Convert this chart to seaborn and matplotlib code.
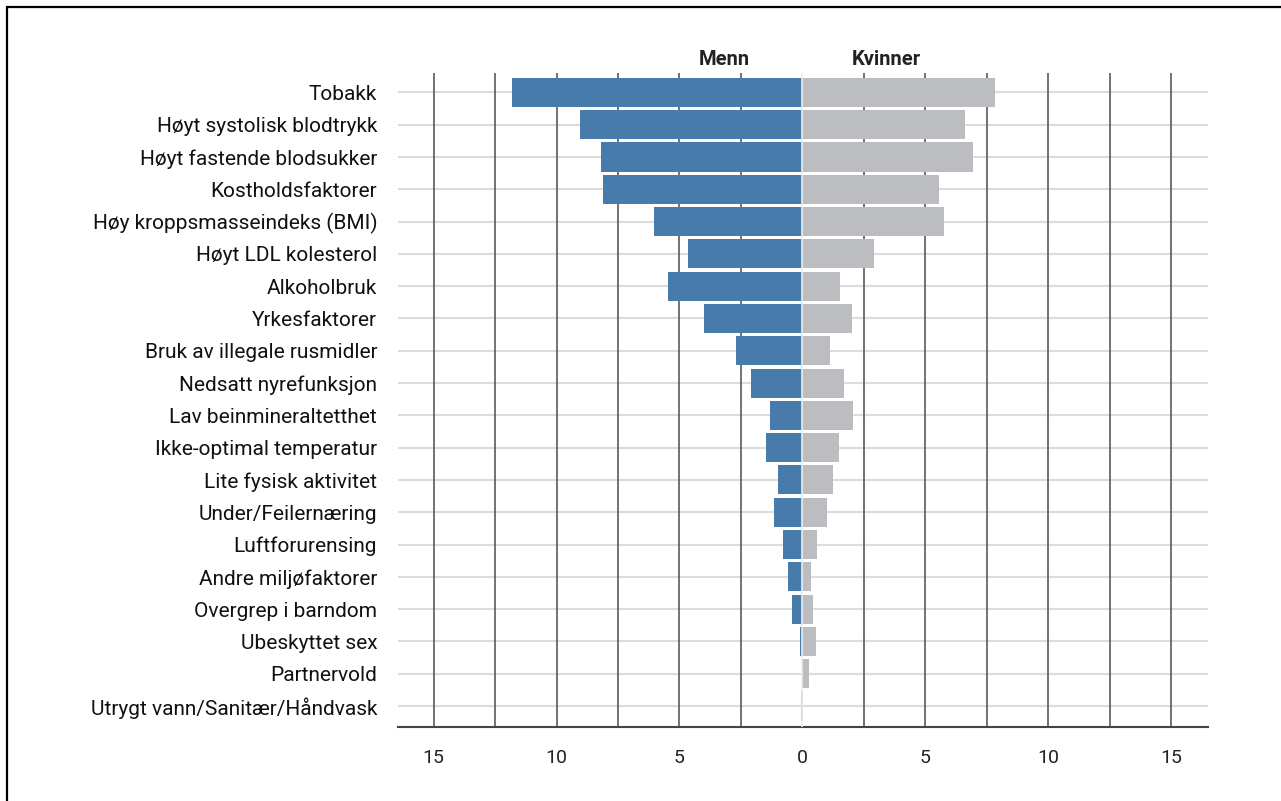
import pandas as pd
import matplotlib.pyplot as plt
import matplotlib.patches as mpatches
import seaborn as sns
import numpy as np

# Data (DALY-andel per risikofaktor, lest av figuren)
categories = [
    "Tobakk", "Høyt systolisk blodtrykk", "Høyt fastende blodsukker",
    "Kostholdsfaktorer", "Høy kroppsmasseindeks (BMI)", "Høyt LDL kolesterol",
    "Alkoholbruk", "Yrkesfaktorer", "Bruk av illegale rusmidler",
    "Nedsatt nyrefunksjon", "Lav beinmineraltetthet", "Ikke-optimal temperatur",
    "Lite fysisk aktivitet", "Under/Feilernæring", "Luftforurensing",
    "Andre miljøfaktorer", "Overgrep i barndom", "Ubeskyttet sex",
    "Partnervold", "Utrygt vann/Sanitær/Håndvask",
]
menn = [11.8, 9.05, 8.2, 8.1, 6.05, 4.65, 5.45, 4.0, 2.7, 2.1,
        1.3, 1.5, 1.0, 1.15, 0.77, 0.57, 0.42, 0.1, 0.0, 0.05]
kvinner = [7.85, 6.6, 6.95, 5.57, 5.77, 2.93, 1.55, 2.03, 1.14, 1.7,
           2.07, 1.5, 1.26, 1.02, 0.6, 0.37, 0.45, 0.57, 0.28, 0.04]
tick_values = [-15, -10, -5, 0, 5, 10, 15]

df = pd.DataFrame({"kategori": categories,
                   "menn": -np.array(menn),
                   "kvinner": kvinner})

blue = "#477bab"
grey = "#bcbdc1"

sns.set_style("white")
plt.rcParams["font.family"] = ["Roboto", "DejaVu Sans"]

fig = plt.figure(figsize=(12.81, 8.01), dpi=100)
ax = fig.add_axes([398 / 1281, (801 - 727) / 801, 810 / 1281, 654 / 801])

sns.barplot(data=df, x="menn", y="kategori", color=blue, width=0.9,
            saturation=1, ax=ax, zorder=3, orient="h", linewidth=0)
sns.barplot(data=df, x="kvinner", y="kategori", color=grey, width=0.9,
            saturation=1, ax=ax, zorder=3, orient="h", linewidth=0)

n = len(categories)
ax.set_xlim(-16.45, 16.5)
ax.set_ylim(n - 0.35, -0.6)

# Grid lines
for i in range(n):
    ax.axhline(i, color="#dcdcdc", lw=1.5, zorder=1)
for xv in np.arange(-15, 15.1, 2.5):
    if xv != 0:
        ax.axvline(xv, color="#5a5a5a", lw=1.2, zorder=2)
ax.axvline(0, color="#ececec", lw=1.2, zorder=4)

for s in ["top", "right", "left"]:
    ax.spines[s].set_visible(False)
ax.spines["bottom"].set_color("#444444")
ax.spines["bottom"].set_linewidth(1.5)

ax.set_xticks(tick_values)
ax.set_xticklabels([str(abs(v)) for v in tick_values], fontsize=14, color="#222222")
ax.tick_params(axis="x", length=0, pad=16)
ax.tick_params(axis="y", length=0, pad=15, labelsize=15, labelcolor="#111111")
ax.set_xlabel("")
ax.set_ylabel("")

ax.text(-2.15, -0.72, "Menn", ha="right", va="bottom", fontsize=14.5,
        fontweight="bold", color="#222222")
ax.text(2.0, -0.72, "Kvinner", ha="left", va="bottom", fontsize=14.5,
        fontweight="bold", color="#222222")

# Figure border
fig.patches.append(mpatches.Rectangle((7 / 1281, -0.05), 1.1, 1.05 - 7 / 801,
                                      transform=fig.transFigure, fill=False,
                                      edgecolor="black", lw=1.6))

fig.savefig("out.png", dpi=100)
